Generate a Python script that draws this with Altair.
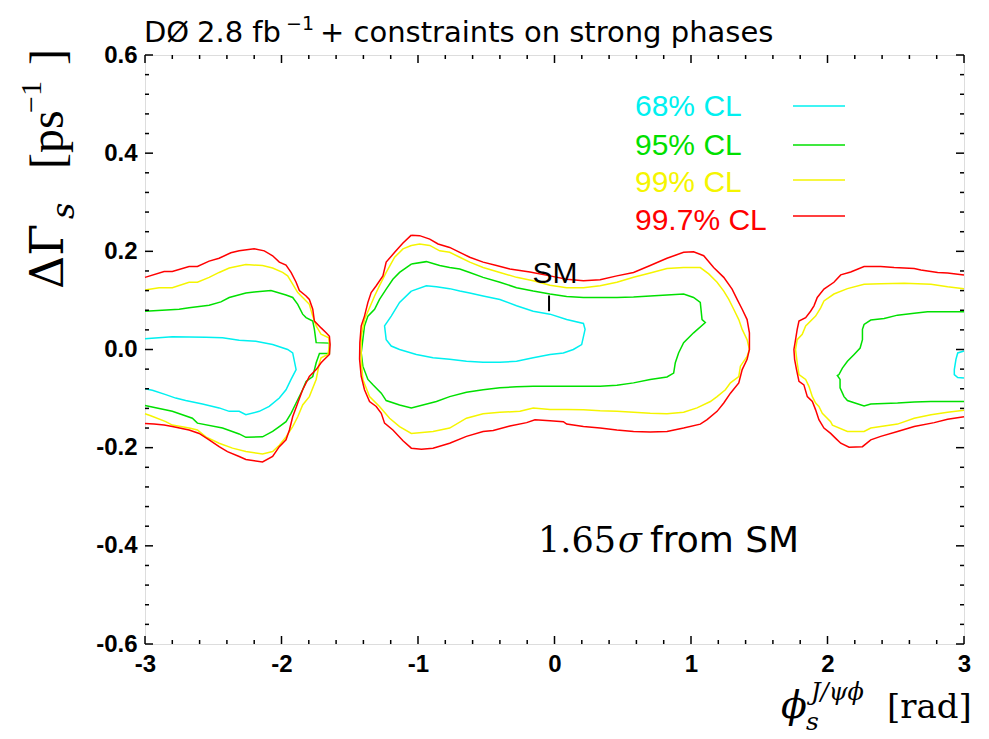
import altair as alt
import pandas as pd

# ---------------- data (phi_s [rad], DeltaGamma_s [ps^-1]) ----------------
levels = ["68% CL", "95% CL", "99% CL", "99.7% CL"]
level_colors = ["#00f0f0", "#00e000", "#f5f500", "#ff0000"]

# left lobe (open, wraps at phi = -3)
red_left = [(-3.0, 0.147), (-2.860, 0.159), (-2.80, 0.159), (-2.677, 0.169), (-2.616, 0.169), (-2.530, 0.180),
            (-2.457, 0.186), (-2.371, 0.197), (-2.310, 0.201), (-2.200, 0.205), (-2.126, 0.201), (-2.065, 0.191),
            (-2.016, 0.178), (-1.967, 0.172), (-1.930, 0.157), (-1.893, 0.137), (-1.869, 0.120), (-1.820, 0.109),
            (-1.796, 0.102), (-1.771, 0.082), (-1.759, 0.058), (-1.710, 0.044), (-1.673, 0.034), (-1.649, 0.027),
            (-1.644, 0.010), (-1.649, -0.010), (-1.685, -0.020), (-1.710, -0.027), (-1.746, -0.041), (-1.796, -0.055),
            (-1.845, -0.082), (-1.881, -0.109), (-1.918, -0.137), (-1.942, -0.164), (-1.967, -0.184), (-2.016, -0.198),
            (-2.065, -0.218), (-2.139, -0.229), (-2.261, -0.224), (-2.310, -0.218), (-2.396, -0.208), (-2.457, -0.198),
            (-2.530, -0.184), (-2.603, -0.171), (-2.677, -0.164), (-2.80, -0.157), (-2.860, -0.154), (-2.934, -0.152),
            (-3.0, -0.151)]
yellow_left = [(-3.0, 0.121), (-2.897, 0.126), (-2.80, 0.126), (-2.677, 0.137), (-2.616, 0.137), (-2.530, 0.147),
               (-2.457, 0.157), (-2.383, 0.166), (-2.261, 0.173), (-2.139, 0.171), (-2.065, 0.166), (-1.992, 0.157),
               (-1.955, 0.150), (-1.918, 0.133), (-1.881, 0.116), (-1.845, 0.106), (-1.796, 0.092), (-1.771, 0.068),
               (-1.746, 0.048), (-1.710, 0.031), (-1.654, 0.024), (-1.649, 0.007), (-1.660, -0.010), (-1.710, -0.017),
               (-1.722, -0.027), (-1.746, -0.061), (-1.796, -0.096), (-1.845, -0.113), (-1.881, -0.137), (-1.918, -0.157),
               (-1.967, -0.178), (-2.016, -0.195), (-2.065, -0.208), (-2.139, -0.213), (-2.261, -0.208), (-2.359, -0.201),
               (-2.457, -0.191), (-2.554, -0.178), (-2.616, -0.164), (-2.677, -0.160), (-2.80, -0.154), (-2.848, -0.147),
               (-2.958, -0.135), (-3.0, -0.131)]
green_left = [(-3.0, 0.078), (-2.750, 0.082), (-2.677, 0.085), (-2.530, 0.090), (-2.444, 0.097), (-2.383, 0.106),
              (-2.261, 0.115), (-2.200, 0.117), (-2.077, 0.120), (-1.967, 0.111), (-1.918, 0.106), (-1.881, 0.092),
              (-1.845, 0.072), (-1.820, 0.065), (-1.771, 0.058), (-1.759, 0.041), (-1.746, 0.014), (-1.649, 0.013),
              (-1.649, -0.008), (-1.722, -0.008), (-1.746, -0.027), (-1.771, -0.055), (-1.820, -0.065), (-1.845, -0.082),
              (-1.893, -0.109), (-1.930, -0.130), (-1.967, -0.147), (-2.016, -0.157), (-2.065, -0.167), (-2.139, -0.178),
              (-2.261, -0.179), (-2.310, -0.172), (-2.432, -0.160), (-2.616, -0.150), (-2.653, -0.140), (-2.80, -0.126),
              (-3.0, -0.114)]
cyan_left = [(-3.0, 0.022), (-2.80, 0.026), (-2.554, 0.025), (-2.432, 0.024), (-2.310, 0.019), (-2.188, 0.017),
             (-2.065, 0.010), (-1.955, 0.000), (-1.918, -0.007), (-1.893, -0.041), (-1.930, -0.061), (-1.967, -0.082),
             (-2.016, -0.099), (-2.090, -0.116), (-2.163, -0.126), (-2.261, -0.133), (-2.310, -0.126), (-2.383, -0.126),
             (-2.457, -0.119), (-2.579, -0.111), (-2.702, -0.104), (-2.775, -0.099), (-2.848, -0.092), (-2.946, -0.083),
             (-3.0, -0.080)]

# central lobe (closed)
red_mid = [(-1.049, 0.233), (-0.988, 0.232), (-0.914, 0.225), (-0.853, 0.215), (-0.768, 0.208), (-0.694, 0.198),
           (-0.621, 0.188), (-0.523, 0.178), (-0.425, 0.171), (-0.327, 0.164), (-0.180, 0.158), (-0.033, 0.150),
           (0.089, 0.143), (0.212, 0.140), (0.334, 0.142), (0.457, 0.150), (0.579, 0.157), (0.701, 0.171),
           (0.824, 0.186), (0.946, 0.198), (1.019, 0.199), (1.093, 0.191), (1.166, 0.167), (1.240, 0.147),
           (1.301, 0.123), (1.338, 0.102), (1.375, 0.082), (1.411, 0.061), (1.428, 0.034), (1.428, 0.000),
           (1.411, -0.020), (1.375, -0.041), (1.350, -0.068), (1.289, -0.089), (1.240, -0.109), (1.191, -0.126),
           (1.118, -0.143), (1.068, -0.152), (0.946, -0.160), (0.824, -0.167), (0.701, -0.168), (0.579, -0.167),
           (0.457, -0.164), (0.334, -0.160), (0.212, -0.157), (0.089, -0.152), (0.065, -0.147), (-0.033, -0.145),
           (-0.143, -0.143), (-0.204, -0.149), (-0.327, -0.156), (-0.449, -0.165), (-0.523, -0.167), (-0.645, -0.177),
           (-0.768, -0.191), (-0.890, -0.201), (-0.975, -0.203), (-1.049, -0.201), (-1.110, -0.186), (-1.184, -0.164),
           (-1.245, -0.150), (-1.269, -0.130), (-1.306, -0.116), (-1.355, -0.106), (-1.392, -0.082), (-1.416, -0.055),
           (-1.428, -0.020), (-1.426, 0.014), (-1.416, 0.048), (-1.392, 0.068), (-1.367, 0.096), (-1.343, 0.116),
           (-1.306, 0.130), (-1.257, 0.150), (-1.233, 0.178), (-1.171, 0.198), (-1.110, 0.217)]
yellow_mid = [(-1.049, 0.212), (-0.988, 0.215), (-0.914, 0.212), (-0.841, 0.201), (-0.768, 0.198), (-0.694, 0.188),
              (-0.621, 0.178), (-0.523, 0.167), (-0.400, 0.157), (-0.278, 0.147), (-0.156, 0.140), (-0.033, 0.131),
              (0.089, 0.126), (0.212, 0.126), (0.334, 0.130), (0.457, 0.137), (0.579, 0.147), (0.701, 0.156),
              (0.824, 0.165), (0.946, 0.167), (1.068, 0.167), (1.130, 0.154), (1.191, 0.137), (1.240, 0.119),
              (1.277, 0.102), (1.313, 0.082), (1.350, 0.061), (1.375, 0.041), (1.411, 0.020), (1.428, 0.000),
              (1.411, -0.014), (1.362, -0.034), (1.350, -0.055), (1.289, -0.068), (1.252, -0.082), (1.191, -0.096),
              (1.142, -0.106), (1.044, -0.119), (0.946, -0.128), (0.824, -0.131), (0.701, -0.130), (0.579, -0.128),
              (0.457, -0.126), (0.334, -0.125), (0.212, -0.123), (0.089, -0.122), (-0.033, -0.122), (-0.156, -0.119),
              (-0.253, -0.126), (-0.400, -0.128), (-0.523, -0.131), (-0.645, -0.140), (-0.768, -0.160), (-0.890, -0.167),
              (-1.049, -0.171), (-1.135, -0.157), (-1.208, -0.140), (-1.282, -0.116), (-1.355, -0.096), (-1.404, -0.061),
              (-1.416, -0.020), (-1.416, 0.027), (-1.392, 0.061), (-1.355, 0.085), (-1.318, 0.109), (-1.282, 0.130),
              (-1.233, 0.157), (-1.171, 0.188), (-1.110, 0.205)]
green_mid = [(-1.049, 0.174), (-0.939, 0.179), (-0.841, 0.171), (-0.768, 0.167), (-0.694, 0.164), (-0.621, 0.157),
             (-0.523, 0.147), (-0.400, 0.137), (-0.278, 0.126), (-0.156, 0.119), (-0.033, 0.113), (0.089, 0.108),
             (0.212, 0.106), (0.334, 0.106), (0.457, 0.106), (0.579, 0.107), (0.701, 0.109), (0.824, 0.111),
             (0.946, 0.113), (1.019, 0.106), (1.068, 0.096), (1.081, 0.061), (1.105, 0.055), (1.019, 0.034),
             (0.946, 0.014), (0.909, -0.007), (0.885, -0.027), (0.873, -0.048), (0.824, -0.056), (0.701, -0.061),
             (0.579, -0.068), (0.457, -0.073), (0.334, -0.075), (0.212, -0.075), (0.089, -0.075), (-0.033, -0.075),
             (-0.156, -0.075), (-0.278, -0.076), (-0.400, -0.078), (-0.523, -0.082), (-0.645, -0.087), (-0.768, -0.096),
             (-0.865, -0.106), (-1.049, -0.119), (-1.135, -0.113), (-1.233, -0.104), (-1.269, -0.089), (-1.330, -0.072),
             (-1.367, -0.061), (-1.404, -0.034), (-1.416, -0.007), (-1.392, 0.048), (-1.367, 0.068), (-1.318, 0.082),
             (-1.282, 0.102), (-1.233, 0.123), (-1.184, 0.143), (-1.135, 0.157)]
cyan_mid = [(-1.049, 0.119), (-0.939, 0.130), (-0.865, 0.128), (-0.768, 0.124), (-0.694, 0.119), (-0.621, 0.115),
            (-0.523, 0.109), (-0.400, 0.102), (-0.278, 0.089), (-0.156, 0.078), (-0.033, 0.072), (0.089, 0.061),
            (0.212, 0.053), (0.224, 0.041), (0.199, 0.010), (0.138, 0.000), (0.065, -0.007), (-0.033, -0.010),
            (-0.156, -0.017), (-0.278, -0.024), (-0.400, -0.026), (-0.523, -0.026), (-0.645, -0.024), (-0.768, -0.020),
            (-0.890, -0.017), (-1.012, -0.010), (-1.135, 0.000), (-1.196, 0.007), (-1.233, 0.020), (-1.245, 0.048),
            (-1.196, 0.068), (-1.135, 0.096)]

# right lobe (open, wraps at phi = +3)
red_right = [(3.0, 0.152), (2.880, 0.156), (2.807, 0.157), (2.684, 0.162), (2.635, 0.165), (2.488, 0.167),
             (2.390, 0.169), (2.268, 0.169), (2.170, 0.158), (2.097, 0.152), (2.047, 0.137), (1.974, 0.123),
             (1.925, 0.106), (1.901, 0.089), (1.876, 0.078), (1.840, 0.065), (1.791, 0.058), (1.778, 0.041),
             (1.766, 0.020), (1.754, 0.000), (1.759, -0.020), (1.773, -0.041), (1.791, -0.065), (1.827, -0.072),
             (1.852, -0.096), (1.889, -0.106), (1.913, -0.123), (1.937, -0.143), (1.974, -0.160), (2.023, -0.171),
             (2.060, -0.181), (2.097, -0.191), (2.158, -0.199), (2.256, -0.198), (2.317, -0.184), (2.390, -0.177),
             (2.513, -0.167), (2.635, -0.157), (2.782, -0.149), (2.880, -0.142), (3.0, -0.137)]
yellow_right = [(3.0, 0.124), (2.880, 0.128), (2.758, 0.133), (2.562, 0.135), (2.390, 0.134), (2.268, 0.133),
                (2.146, 0.124), (2.047, 0.113), (1.974, 0.099), (1.950, 0.085), (1.913, 0.068), (1.840, 0.048),
                (1.815, 0.031), (1.778, 0.020), (1.766, 0.000), (1.778, -0.027), (1.791, -0.051), (1.840, -0.061),
                (1.864, -0.075), (1.889, -0.096), (1.913, -0.109), (1.937, -0.116), (1.962, -0.130), (2.023, -0.147),
                (2.036, -0.154), (2.146, -0.167), (2.268, -0.167), (2.317, -0.160), (2.390, -0.157), (2.513, -0.152),
                (2.635, -0.140), (2.758, -0.133), (2.880, -0.128), (3.0, -0.124)]
green_right = [(3.0, 0.077), (2.880, 0.077), (2.733, 0.077), (2.635, 0.074), (2.513, 0.070), (2.415, 0.063),
               (2.317, 0.060), (2.268, 0.051), (2.256, 0.041), (2.256, 0.020), (2.239, 0.003), (2.195, -0.010),
               (2.146, -0.024), (2.109, -0.038), (2.084, -0.051), (2.072, -0.053), (2.092, -0.061), (2.092, -0.078),
               (2.121, -0.096), (2.146, -0.104), (2.268, -0.115), (2.317, -0.111), (2.513, -0.109), (2.635, -0.107),
               (2.758, -0.106), (3.0, -0.106)]
cyan_right = [(3.0, -0.003), (2.954, -0.007), (2.941, -0.020), (2.929, -0.041), (2.929, -0.051), (2.954, -0.057),
              (3.0, -0.058)]

# Standard Model point (phi_s, DeltaGamma_s range)
sm_phi = [-0.04]
sm_dg_low = [0.078]
sm_dg_high = [0.110]

x_labels = [-3, -2, -1, 0, 1, 2, 3]
y_labels = [-0.6, -0.4, -0.2, 0.0, 0.2, 0.4, 0.6]
x_minor = [round(-3 + 0.2 * i, 2) for i in range(31)]
y_minor = [round(-0.6 + 0.04 * i, 2) for i in range(31)]

# ---------------- build table ----------------
pieces = [
    ("68% CL", "c_l", cyan_left, False), ("68% CL", "c_m", cyan_mid, True), ("68% CL", "c_r", cyan_right, False),
    ("95% CL", "g_l", green_left, False), ("95% CL", "g_m", green_mid, True), ("95% CL", "g_r", green_right, False),
    ("99% CL", "y_l", yellow_left, False), ("99% CL", "y_m", yellow_mid, True), ("99% CL", "y_r", yellow_right, False),
    ("99.7% CL", "r_l", red_left, False), ("99.7% CL", "r_m", red_mid, True), ("99.7% CL", "r_r", red_right, False),
]
rows = []
for lev, pid, pts, closed in pieces:
    seq = list(pts) + ([pts[0]] if closed else [])
    for i, (px, py) in enumerate(seq):
        rows.append({"level": lev, "piece": pid, "i": i, "phi": px, "dg": py})
df = pd.DataFrame(rows)

W, H = 819, 589
xs = alt.Scale(domain=[-3, 3], nice=False, zero=False)
ys = alt.Scale(domain=[-0.6, 0.6], nice=False, zero=False)
LABEL_FONT = "Liberation Sans"

x_axis = alt.Axis(
    values=x_labels, title=None, grid=False, ticks=False, domain=False,
    labelFont=LABEL_FONT, labelFontWeight="bold", labelFontSize=24, labelColor="black",
    labelPadding=8, labelFlush=False, labelOverlap=False,
    labelExpr="datum.value < 0 ? '-' + format(-datum.value, 'd') : format(datum.value, 'd')")
y_axis = alt.Axis(
    values=y_labels, title=None, grid=False, ticks=False, domain=False,
    labelFont=LABEL_FONT, labelFontWeight="bold", labelFontSize=24, labelColor="black",
    labelPadding=8, labelFlush=False, labelOverlap=False,
    labelExpr="datum.value < -0.001 ? '-' + format(-datum.value, '.1f') : format(abs(datum.value), '.1f')")

contours = alt.Chart(df).mark_line(strokeWidth=1.5).encode(
    x=alt.X("phi:Q", scale=xs, axis=x_axis),
    y=alt.Y("dg:Q", scale=ys, axis=y_axis),
    color=alt.Color("level:N", scale=alt.Scale(domain=levels, range=level_colors), legend=None),
    detail="piece:N",
    order="i:Q",
)

# ticks (drawn inward on all four sides)
xt = pd.DataFrame({"v": x_minor, "major": [abs(v - round(v)) < 1e-6 for v in x_minor]})
yt = pd.DataFrame({"v": y_minor, "major": [abs(v / 0.2 - round(v / 0.2)) < 1e-6 for v in y_minor]})


def xticks(major, y0, y1):
    d = xt[xt.major == major]
    return alt.Chart(d).mark_rule(color="black", strokeWidth=1.5).encode(
        x=alt.X("v:Q", scale=xs, axis=x_axis), y=alt.value(y0), y2=alt.value(y1))


def yticks(major, x0, x1):
    d = yt[yt.major == major]
    return alt.Chart(d).mark_rule(color="black", strokeWidth=1.5).encode(
        y=alt.Y("v:Q", scale=ys, axis=y_axis), x=alt.value(x0), x2=alt.value(x1))


ticks = [xticks(True, H, H - 8), xticks(False, H, H - 4), xticks(True, 0, 8), xticks(False, 0, 4),
         yticks(True, 0, 8), yticks(False, 0, 4), yticks(True, W, W - 8), yticks(False, W, W - 4)]

# SM marker
sm_df = pd.DataFrame({"phi": sm_phi, "lo": sm_dg_low, "hi": sm_dg_high, "t": ["SM"]})
sm_bar = alt.Chart(sm_df).mark_rule(color="black", strokeWidth=2).encode(
    x=alt.X("phi:Q", scale=xs, axis=x_axis), y=alt.Y("lo:Q", scale=ys, axis=y_axis), y2="hi:Q")
sm_txt = alt.Chart(sm_df).mark_text(font=LABEL_FONT, fontSize=30, baseline="alphabetic", align="center",
                                    dy=-13, dx=6).encode(
    x=alt.X("phi:Q", scale=xs, axis=x_axis), y=alt.Y("hi:Q", scale=ys, axis=y_axis), text="t:N")

one = pd.DataFrame({"a": [0]})


def label(text, x, y, size, font, color="black", angle=None, align="left", baseline="alphabetic",
          style=None, weight=None):
    kw = dict(text=text, fontSize=size, font=font, color=color, align=align, baseline=baseline)
    if angle is not None:
        kw["angle"] = angle
    if style:
        kw["fontStyle"] = style
    if weight:
        kw["fontWeight"] = weight
    return alt.Chart(one).mark_text(**kw).encode(x=alt.value(x), y=alt.value(y))


# legend (text left, line sample right)
leg_text_y = [61, 100, 137, 175]
leg_line_y = [51, 90, 125, 161]
legend = []
for lev, col, ty, ly in zip(levels, level_colors, leg_text_y, leg_line_y):
    legend.append(label(lev, 490, ty, 30, LABEL_FONT, color=col))
    legend.append(alt.Chart(one).mark_rule(color=col, strokeWidth=1.5).encode(
        x=alt.value(648), x2=alt.value(700), y=alt.value(ly)))

SERIF = "DejaVu Serif"
TSERIF = "Liberation Serif"
TITLE_FONT = "DejaVu Sans"
texts = [
    # title
    label("DØ", -1, -13, 29, TITLE_FONT),
    label("2.8 fb", 52, -13, 29, TITLE_FONT),
    label("−1", 141, -25, 19, TITLE_FONT),
    label("+ constraints on strong phases", 175, -13, 29, TITLE_FONT),
    # annotation
    label("1.65", 393, 497, 35, SERIF),
    label("σ", 473, 497, 35, SERIF, style="italic"),
    label("from SM", 505, 497, 36, "DejaVu Sans"),
    # x title
    label("ϕ", 636, 663, 38, SERIF, style="italic"),
    label("s", 661, 675, 25, SERIF, style="italic"),
    label("J/ψϕ", 666, 645, 24, SERIF, style="italic"),
    label("[rad]", 742, 663, 34, SERIF),
    # y title (rotated)
    label("ΔΓ", -82, 234, 46, SERIF, angle=270),
    label("s", -71, 164, 32, SERIF, angle=270, style="italic"),
    label("[ps", -82, 114, 48, TSERIF, angle=270),
    label("−1", -104, 58, 30, TSERIF, angle=270),
    label("]", -82, 10, 48, TSERIF, angle=270),
]

chart = alt.layer(contours, *ticks, sm_bar, sm_txt, *legend, *texts).properties(
    width=W, height=H,
    padding={"left": 137, "top": 47, "right": 17, "bottom": 93},
    autosize=alt.AutoSizeParams(type="none"),
).configure_view(stroke="black", strokeWidth=2.5).configure(background="white")

chart.save("out.html", embed_options={"renderer": "svg", "actions": False})
